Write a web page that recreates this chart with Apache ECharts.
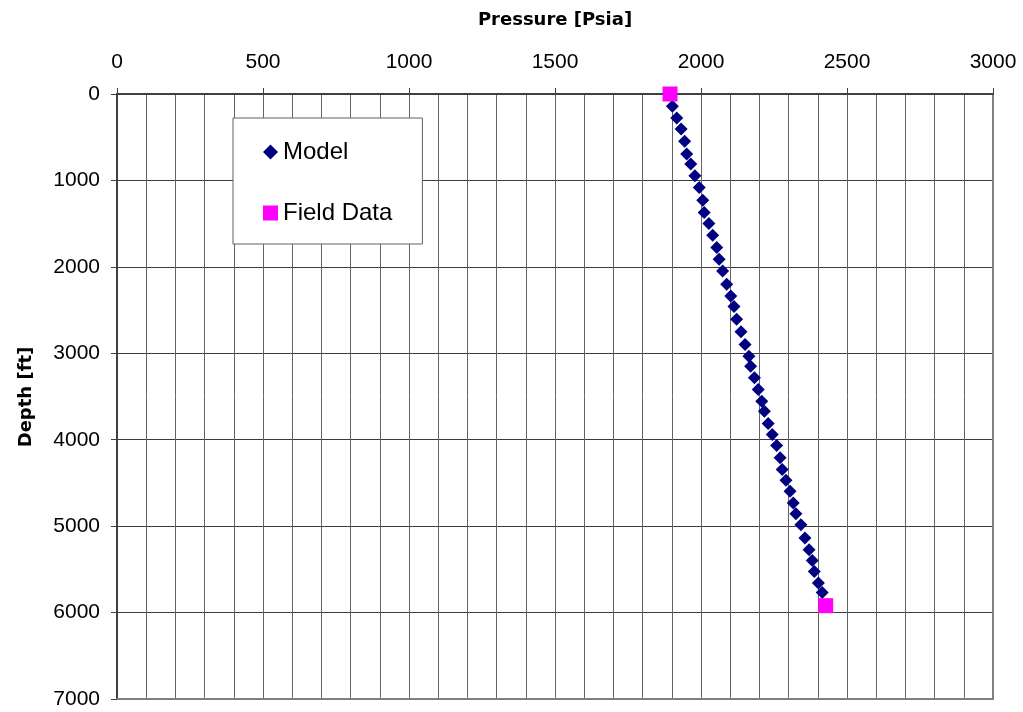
<!DOCTYPE html>
<html>
<head>
<meta charset="utf-8">
<script src="https://cdn.jsdelivr.net/npm/echarts@6/dist/echarts.min.js"></script>
<style>
html,body{margin:0;padding:0;background:#fff;}
#chart{width:1023px;height:712px;}
</style>
</head>
<body>
<div id="chart"></div>
<script>
// Model: pressure [psia] and depth [ft]
const modelPressure = [
  1902,1917,1932,1944,1951,1965,1979,1994,2006,
  2011,2027,2040,2054,2062,2074,2088,2102,2113,
  2122,2137,2151,2164,2170,2183,2196,2208,2217,
  2230,2244,2259,2271,2278,2291,2305,2316,2325,
  2342,2356,2370,2381,2388,2402,2415
];
const modelDepth = [
  142,278,406,548,695,811,946,1081,1228,
  1371,1498,1634,1777,1912,2048,2202,2337,2460,
  2607,2750,2897,3033,3149,3283,3419,3554,3670,
  3813,3940,4068,4210,4346,4470,4597,4732,4856,
  4983,5137,5273,5397,5524,5659,5768
];
// Field data
const fieldPressure = [1894, 2427];
const fieldDepth = [0, 5920];

const seriesNames = ['Model', 'Field Data'];
const xTitle = 'Pressure [Psia]';
const yTitle = 'Depth [ft]';

const labelFont = 'Liberation Sans';
const titleFont = 'DejaVu Sans';

const chart = echarts.init(document.getElementById('chart'), null, {renderer: 'canvas'});

const plain = v => String(v);

const option = {
  animation: false,
  backgroundColor: '#ffffff',
  grid: {left: 117, top: 94, width: 876, height: 605, containLabel: false},
  legend: {
    orient: 'vertical',
    left: 233,
    top: 118,
    padding: [22, 30, 19, 30],
    itemGap: 37,
    itemWidth: 15,
    itemHeight: 15,
    backgroundColor: '#ffffff',
    borderColor: '#606060',
    borderWidth: 1,
    textStyle: {fontSize: 24, lineHeight: 24, color: '#000', fontFamily: labelFont},
    data: [
      {name: seriesNames[0], icon: 'diamond'},
      {name: seriesNames[1], icon: 'rect'}
    ]
  },
  xAxis: [{
    type: 'value',
    position: 'top',
    min: 0, max: 3000, interval: 500,
    axisLine: {show: true, onZero: false, lineStyle: {color: '#404040', width: 2}},
    axisTick: {show: true, inside: false, length: 6, lineStyle: {color: '#404040', width: 1}},
    axisLabel: {fontSize: 21, lineHeight: 21, color: '#000', margin: 21, fontFamily: labelFont, formatter: plain},
    splitLine: {show: true, lineStyle: {color: '#646464', width: 1}},
    minorTick: {show: false, splitNumber: 5},
    minorSplitLine: {show: true, lineStyle: {color: '#646464', width: 1}}
  }, {
    type: 'value',
    position: 'bottom',
    min: 0, max: 3000,
    axisLine: {show: true, onZero: false, lineStyle: {color: '#808080', width: 2}},
    axisTick: {show: false},
    axisLabel: {show: false},
    splitLine: {show: false}
  }],
  yAxis: [{
    type: 'value',
    inverse: true,
    min: 0, max: 7000, interval: 1000,
    axisLine: {show: true, onZero: false, lineStyle: {color: '#404040', width: 2}},
    axisTick: {show: true, inside: false, length: 6, lineStyle: {color: '#404040', width: 1}},
    axisLabel: {fontSize: 21, color: '#000', margin: 17, fontFamily: labelFont, formatter: plain},
    splitLine: {show: true, lineStyle: {color: '#3c3c3c', width: 1}}
  }, {
    type: 'value',
    position: 'right',
    inverse: true,
    min: 0, max: 7000,
    axisLine: {show: true, onZero: false, lineStyle: {color: '#808080', width: 2}},
    axisTick: {show: false},
    axisLabel: {show: false},
    splitLine: {show: false}
  }],
  graphic: [
    {
      type: 'text',
      x: 555, y: 20.5,
      style: {
        text: xTitle,
        font: "bold 18px '" + titleFont + "'",
        fill: '#000',
        align: 'center',
        verticalAlign: 'middle'
      }
    },
    {
      type: 'text',
      x: 26, y: 397,
      rotation: Math.PI / 2,
      style: {
        text: yTitle,
        font: "bold 18px '" + titleFont + "'",
        fill: '#000',
        align: 'center',
        verticalAlign: 'middle'
      }
    }
  ],
  series: [
    {
      name: seriesNames[0],
      type: 'scatter',
      xAxisIndex: 0, yAxisIndex: 0,
      symbol: 'diamond',
      symbolSize: 13,
      itemStyle: {color: '#000080', opacity: 1},
      emphasis: {disabled: true},
      data: modelPressure.map((p, i) => [p, modelDepth[i]]),
      z: 3
    },
    {
      name: seriesNames[1],
      type: 'scatter',
      xAxisIndex: 0, yAxisIndex: 0,
      symbol: 'rect',
      symbolSize: 15,
      itemStyle: {color: '#ff00ff', opacity: 1},
      emphasis: {disabled: true},
      data: fieldPressure.map((p, i) => [p, fieldDepth[i]]),
      z: 4
    }
  ]
};
chart.setOption(option);
</script>
</body>
</html>
